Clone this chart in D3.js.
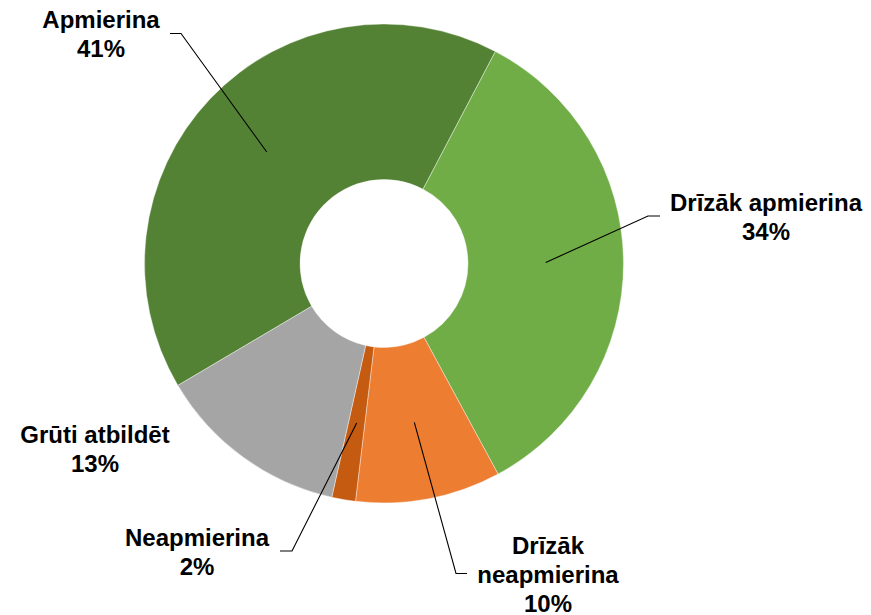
<!DOCTYPE html>
<html>
<head>
<meta charset="utf-8">
<script src="https://cdn.jsdelivr.net/npm/d3@7"></script>
<style>
  html, body { margin: 0; padding: 0; background: #fff; }
  svg { display: block; }
  text { font-family: "Liberation Sans", Arial, sans-serif; font-weight: bold; font-size: 24px; fill: #000; }
</style>
</head>
<body>
<svg id="donut" width="871" height="615"></svg>
<script>
const categories = ["Apmierina", "Drīzāk apmierina", "Drīzāk neapmierina", "Neapmierina", "Grūti atbildēt"];
const values     = [41.2, 34.4, 9.8, 1.6, 13.0];
const pctLabels  = ["41%", "34%", "10%", "2%", "13%"];
const colors     = ["#548235", "#70ad47", "#ed7d31", "#c55a11", "#a5a5a5"];

// label layout: text lines, center x, first baseline, leader elbow / end
const labelLayout = [
  { lines: ["Apmierina"],             x: 101, y: 28,  elbow: [181, 33.5],  end: [170, 33.5] },
  { lines: ["Drīzāk apmierina"],      x: 766, y: 211, elbow: [648, 216],   end: [660, 216] },
  { lines: ["Drīzāk", "neapmierina"], x: 548, y: 554, elbow: [456, 573.5], end: [467, 573.5] },
  { lines: ["Neapmierina"],           x: 197, y: 546, elbow: [292, 551],   end: [280, 551] },
  { lines: ["Grūti atbildēt"],        x: 95,  y: 443, elbow: null,         end: null }
];

const svg = d3.select("#donut");
const cx = 384, cy = 263.5;
const outerR = 239.5, innerR = 84;
const lineH = 29;

const startDeg = -120.6;
const pie = d3.pie().sort(null).value(d => d)
  .startAngle(startDeg * Math.PI / 180)
  .endAngle((startDeg + 360) * Math.PI / 180);
const arcs = pie(values);
const arc = d3.arc().innerRadius(innerR).outerRadius(outerR);
const midArc = d3.arc().innerRadius((innerR + outerR) / 2).outerRadius((innerR + outerR) / 2);

const g = svg.append("g").attr("transform", `translate(${cx},${cy})`);
g.selectAll("path.slice").data(arcs).join("path")
  .attr("class", "slice")
  .attr("d", arc)
  .attr("fill", (d, i) => colors[i])
  .attr("stroke", "#fff").attr("stroke-width", 0.4);

// leader lines
arcs.forEach((a, i) => {
  const L = labelLayout[i];
  if (!L.elbow) return;
  const c = midArc.centroid(a);
  const pts = [[cx + c[0], cy + c[1]], L.elbow, L.end];
  svg.append("path")
    .attr("d", d3.line()(pts))
    .attr("fill", "none")
    .attr("stroke", "#000")
    .attr("stroke-width", 1.1);
});

// labels
labelLayout.forEach((L, i) => {
  const t = svg.append("text").attr("text-anchor", "middle");
  const lines = L.lines.concat([pctLabels[i]]);
  lines.forEach((s, k) => {
    t.append("tspan").attr("x", L.x).attr("y", L.y + k * lineH).text(s);
  });
});
</script>
</body>
</html>
